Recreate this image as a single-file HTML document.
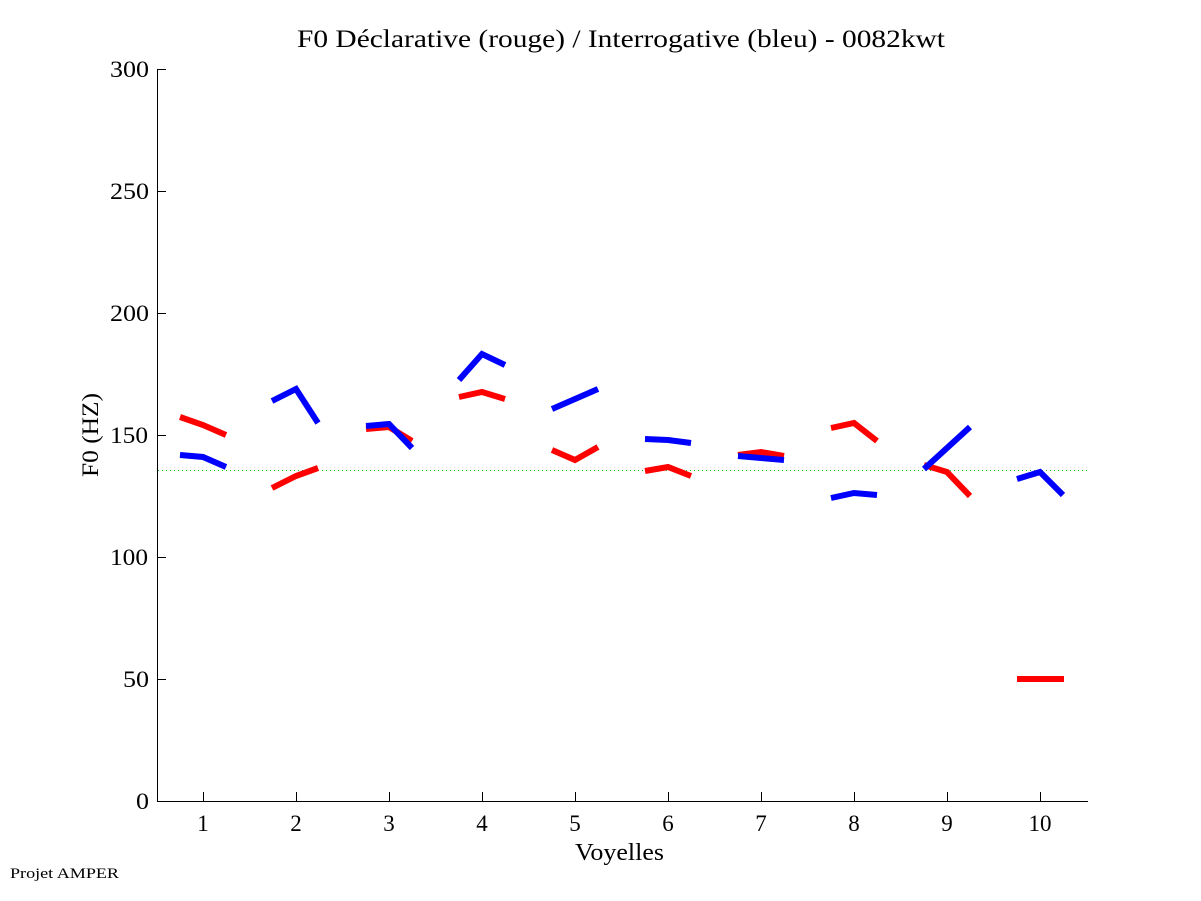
<!DOCTYPE html>
<html><head><meta charset="utf-8"><style>
html,body{margin:0;padding:0;background:#fff;}
svg{display:block;}
text{font-family:"Liberation Serif","DejaVu Serif",serif;fill:#000;}
</style></head><body>
<svg width="1201" height="901" viewBox="0 0 1201 901" xmlns="http://www.w3.org/2000/svg">
<rect width="1201" height="901" fill="#fff"/>
<!-- title -->
<text x="297" y="47" font-size="25" textLength="648" lengthAdjust="spacingAndGlyphs">F0 Déclarative (rouge) / Interrogative (bleu) - 0082kwt</text>
<!-- green reference line -->
<line x1="158" y1="470.5" x2="1087" y2="470.5" stroke="#00cc00" stroke-width="1" stroke-dasharray="1,3"/>
<!-- axes -->
<g stroke="#000" stroke-width="1" fill="none">
<line x1="157.5" y1="69" x2="157.5" y2="802"/>
<line x1="157" y1="801.5" x2="1088" y2="801.5"/>
<line x1="157" y1="69.5" x2="166" y2="69.5"/>
<line x1="157" y1="191.5" x2="166" y2="191.5"/>
<line x1="157" y1="313.5" x2="166" y2="313.5"/>
<line x1="157" y1="435.5" x2="166" y2="435.5"/>
<line x1="157" y1="557.5" x2="166" y2="557.5"/>
<line x1="157" y1="679.5" x2="166" y2="679.5"/>
<line x1="203.5" y1="792" x2="203.5" y2="801"/>
<line x1="296.5" y1="792" x2="296.5" y2="801"/>
<line x1="389.5" y1="792" x2="389.5" y2="801"/>
<line x1="482.5" y1="792" x2="482.5" y2="801"/>
<line x1="575.5" y1="792" x2="575.5" y2="801"/>
<line x1="668.5" y1="792" x2="668.5" y2="801"/>
<line x1="761.5" y1="792" x2="761.5" y2="801"/>
<line x1="854.5" y1="792" x2="854.5" y2="801"/>
<line x1="947.5" y1="792" x2="947.5" y2="801"/>
<line x1="1040.5" y1="792" x2="1040.5" y2="801"/>
</g>
<!-- y tick labels -->
<g font-size="23">
<text x="110" y="77" textLength="39" lengthAdjust="spacingAndGlyphs">300</text>
<text x="110" y="199" textLength="39" lengthAdjust="spacingAndGlyphs">250</text>
<text x="110" y="321" textLength="39" lengthAdjust="spacingAndGlyphs">200</text>
<text x="110" y="443" textLength="38" lengthAdjust="spacingAndGlyphs">150</text>
<text x="110" y="565" textLength="38" lengthAdjust="spacingAndGlyphs">100</text>
<text x="123" y="687" textLength="26" lengthAdjust="spacingAndGlyphs">50</text>
<text x="136" y="809" textLength="13" lengthAdjust="spacingAndGlyphs">0</text>
</g>
<!-- x tick labels -->
<g font-size="23" text-anchor="middle">
<text x="203" y="831">1</text>
<text x="296" y="831">2</text>
<text x="389" y="831">3</text>
<text x="482" y="831">4</text>
<text x="575" y="831">5</text>
<text x="668" y="831">6</text>
<text x="761" y="831">7</text>
<text x="854" y="831">8</text>
<text x="947" y="831">9</text>
<text x="1040" y="831">10</text>
</g>
<text x="575" y="860" font-size="24" textLength="89" lengthAdjust="spacingAndGlyphs">Voyelles</text>
<text transform="translate(98,477) rotate(-90)" font-size="23" textLength="84" lengthAdjust="spacingAndGlyphs">F0 (HZ)</text>
<text x="10" y="878" font-size="15" textLength="109" lengthAdjust="spacingAndGlyphs">Projet AMPER</text>
<!-- series -->
<g fill="none" stroke-width="6" stroke-linecap="butt" stroke-linejoin="miter">
<g stroke="#ff0000">
<polyline points="180,417 203,425 226,435"/>
<polyline points="272,488 296,476 318,468"/>
<polyline points="366,429 389,427 412,441"/>
<polyline points="459,397 482,392 505,399"/>
<polyline points="552,450 575,460 598,447"/>
<polyline points="645,471 668,467 691,476"/>
<polyline points="738,455 761,452 784,456"/>
<polyline points="831,428 854,423 877,441"/>
<polyline points="924,465 947,472 970,496"/>
<polyline points="1017,679 1040,679 1064,679"/>
</g>
<g stroke="#0000ff">
<polyline points="180,455 203,457 226,467"/>
<polyline points="272,401 296,389 318,423"/>
<polyline points="366,426 389,424 412,448"/>
<polyline points="459,380 482,354 505,365"/>
<polyline points="552,409 575,399 598,389"/>
<polyline points="645,439 668,440 691,443"/>
<polyline points="738,456 761,458 784,460"/>
<polyline points="831,498 854,493 877,495"/>
<polyline points="924,469 947,448 970,427"/>
<polyline points="1017,479 1040,472 1063,495"/>
</g>
</g>
</svg>
</body></html>
